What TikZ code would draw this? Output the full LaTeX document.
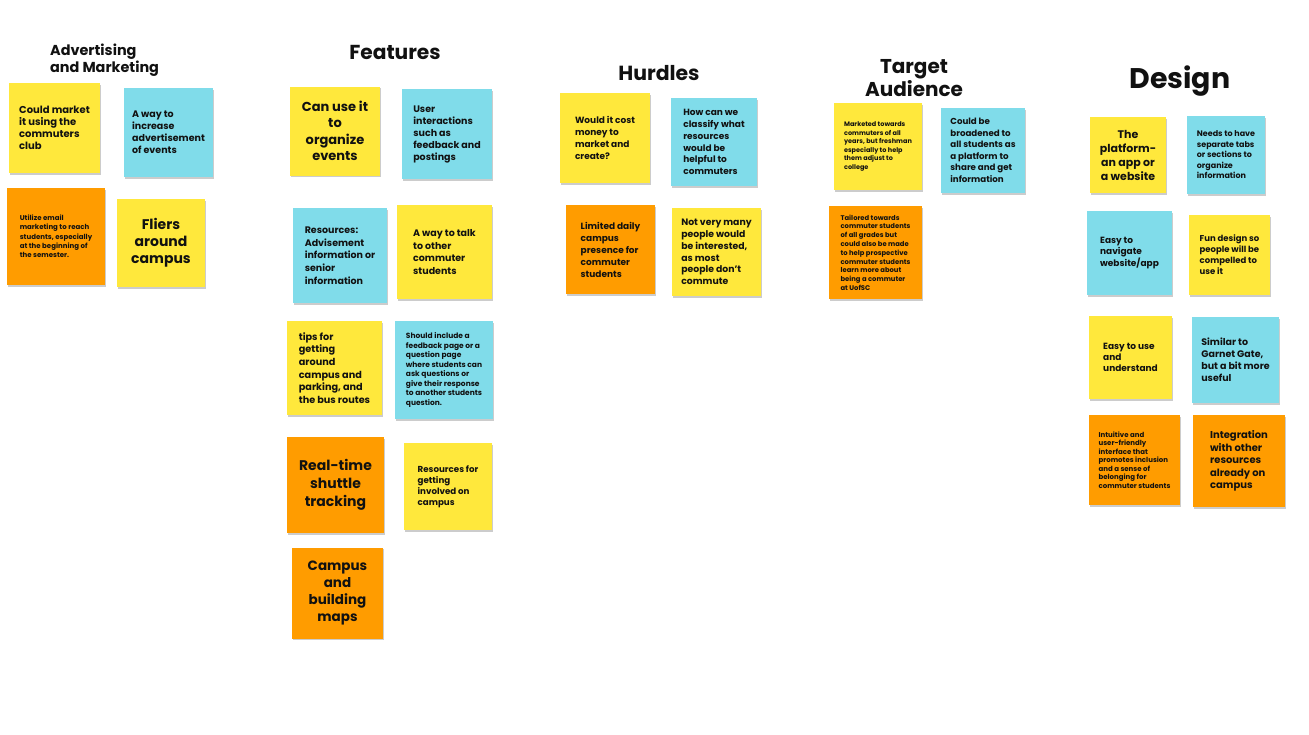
\documentclass[tikz,border=0pt]{standalone}
\usepackage{fontspec}
\setmainfont{Poppins}
\usetikzlibrary{shadows}
\definecolor{yel}{HTML}{FFE83C}
\definecolor{cyn}{HTML}{80DCEA}
\definecolor{org}{HTML}{FF9C00}
\definecolor{ink}{HTML}{111111}
\tikzset{
  x=1pt, y=-1pt,
  note/.style={rectangle, inner sep=2pt, align=left, text=ink,
    drop shadow={shadow xshift=0.6pt, shadow yshift=-1.8pt, opacity=0.2, fill=black}},
  ctr/.style={align=center},
  fsz/.style 2 args={font=\bfseries\fontsize{#1}{#2}\selectfont},
  wh/.style 2 args={minimum width=#1pt, minimum height=#2pt},
  title/.style={text=ink, inner sep=0pt},
}
\begin{document}
\begin{tikzpicture}
\useasboundingbox[fill=white] (0,0) rectangle (1309,734);

% ---- Advertising and Marketing
\node[title, anchor=west, align=left, fsz={14.4}{17}] (t1) at (50,60.5) {Advertising\\and Marketing};
\node[note, fill=yel, wh={91}{90}, fsz={10}{12}] (a1) at (54.5,128) {Could market\\it using the\\commuters\\club};
\node[note, fill=cyn, wh={89}{89}, fsz={9.5}{12}] (a2) at (168.5,132.5) {A way to\\increase\\advertisement\\of events};
\node[note, fill=org, wh={98}{97}, fsz={7}{9.3}] (a3) at (56,236.5) {Utilize email\\marketing to reach\\students, especially\\at the beginning of\\the semester.};
\node[note, fill=yel, wh={88}{88}, fsz={14}{17}, ctr] (a4) at (161,243) {Fliers\\around\\campus};

% ---- Features
\node[title, fsz={20.2}{24}] (t2) at (395,52) {Features};
\node[note, fill=yel, wh={90}{89}, fsz={13}{16.5}, ctr] (b1) at (335,131) {Can use it\\to\\organize\\events};
\node[note, fill=cyn, wh={90}{90}, fsz={9.5}{12}] (b2) at (447,134) {User\\interactions\\such as\\feedback and\\postings};
\node[note, fill=cyn, wh={94}{95}, fsz={9.5}{12.7}] (b3) at (340,255.5) {Resources:\\Advisement\\information or\\senior\\information};
\node[note, fill=yel, wh={95}{94}, fsz={9.5}{12.7}] (b4) at (444.5,252) {A way to talk\\to other\\commuter\\students};
\node[note, fill=yel, wh={95}{94}, fsz={9.7}{12.7}] (b5) at (334.5,368) {tips for\\getting\\around\\campus and\\parking, and\\the bus routes};
\node[note, fill=cyn, wh={98}{98}, fsz={7.5}{9.5}] (b6) at (444,370) {Should include a\\feedback page or a\\question page\\where students can\\ask questions or\\give their response\\to another students\\question.};
\node[note, fill=org, wh={97}{96}, fsz={14}{18}, ctr] (b7) at (335.5,485) {Real-time\\shuttle\\tracking};
\node[note, fill=yel, wh={88}{87}, fsz={8.7}{11}] (b8) at (448,486.5) {Resources for\\getting\\involved on\\campus};
\node[note, fill=org, wh={91}{91}, fsz={13.5}{17}, ctr] (b9) at (337.5,593) {Campus\\and\\building\\maps};

% ---- Hurdles
\node[title, fsz={20.4}{24}] (t3) at (659,73) {Hurdles};
\node[note, fill=yel, wh={90}{90}, fsz={9}{12}] (c1) at (605,138) {Would it cost\\money to\\market and\\create?};
\node[note, fill=cyn, wh={86}{88}, fsz={9}{11.8}] (c2) at (714,142) {How can we\\classify what\\resources\\would be\\helpful to\\commuters};
\node[note, fill=org, wh={89}{89}, fsz={9}{12}] (c3) at (610.5,249.5) {Limited daily\\campus\\presence for\\commuter\\students};
\node[note, fill=yel, wh={89}{88}, fsz={9.3}{11.8}] (c4) at (716.5,252) {Not very many\\people would\\be interested,\\as most\\people don't\\commute};

% ---- Target Audience
\node[title, align=center, fsz={20}{23}] (t4) at (914,78.5) {Target\\Audience};
\node[note, fill=yel, wh={88}{87}, fsz={6.5}{8.5}] (d1) at (878,146.5) {Marketed towards\\commuters of all\\years, but freshman\\especially to help\\them adjust to\\college};
\node[note, fill=cyn, wh={84}{85}, fsz={8.7}{11.5}] (d2) at (983,150.5) {Could be\\broadened to\\all students as\\a platform to\\share and get\\information};
\node[note, fill=org, wh={93}{93}, fsz={6.8}{8.8}] (d3) at (875.5,252.5) {Tailored towards\\commuter students\\of all grades but\\could also be made\\to help prospective\\commuter students\\learn more about\\being a commuter\\at UofSC};

% ---- Design
\node[title, fsz={28.4}{32}] (t5) at (1180,81) {Design};
\node[note, fill=yel, wh={76}{76}, fsz={11}{14}, ctr] (e1) at (1128,155) {The\\platform-\\an app or\\a website};
\node[note, fill=cyn, wh={78}{78}, fsz={8}{10.5}] (e2) at (1226,155) {Needs to have\\separate tabs\\or sections to\\organize\\information};
\node[note, fill=cyn, wh={85}{84}, fsz={9}{11}] (e3) at (1129.5,253) {Easy to\\navigate\\website/app};
\node[note, fill=yel, wh={81}{80}, fsz={8.5}{11}] (e4) at (1229.5,255) {Fun design so\\people will be\\compelled to\\use it};
\node[note, fill=yel, wh={83}{83}, fsz={9}{11}] (e5) at (1130.5,357.5) {Easy to use\\and\\understand};
\node[note, fill=cyn, wh={87}{86}, fsz={9.5}{12}] (e6) at (1235.5,360) {Similar to\\Garnet Gate,\\but a bit more\\useful};
\node[note, fill=org, wh={91}{90}, fsz={7}{8.5}] (e7) at (1134.5,460) {Intuitive and\\user-friendly\\interface that\\promotes inclusion\\and a sense of\\belonging for\\commuter students};
\node[note, fill=org, wh={92}{92}, fsz={10}{12.5}] (e8) at (1239,461) {Integration\\with other\\resources\\already on\\campus};
\end{tikzpicture}
\end{document}
